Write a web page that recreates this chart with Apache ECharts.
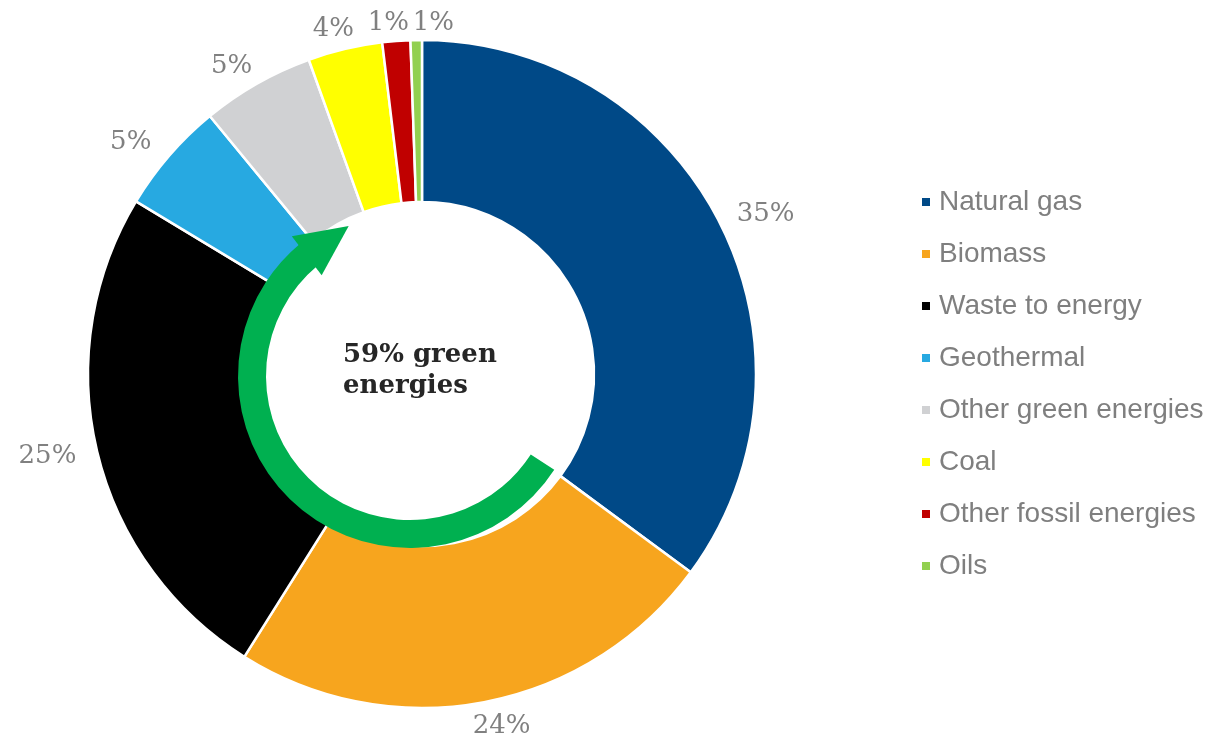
<!DOCTYPE html>
<html>
<head>
<meta charset="utf-8">
<script src="https://cdn.jsdelivr.net/npm/echarts@6/dist/echarts.min.js"></script>
<style>
  html, body { margin: 0; padding: 0; background: #fff; }
  #chart { width: 1220px; height: 744px; }
</style>
</head>
<body>
<div id="chart"></div>
<script>
// energy mix, share of total in %
const categories = ['Natural gas', 'Biomass', 'Waste to energy', 'Geothermal', 'Other green energies', 'Coal', 'Other fossil energies', 'Oils'];
const shares = [35.1, 23.8, 24.7, 5.4, 5.45, 3.6, 1.35, 0.55];
const greenCategories = ['Biomass', 'Waste to energy', 'Geothermal', 'Other green energies'];

const palette = ['#004987', '#F7A51E', '#000000', '#27A9E1', '#D0D1D3', '#FFFF00', '#C00000', '#92D050'];

const CX = 422, CY = 374;
const LABEL_RX = 385, LABEL_RY = 354;
// small manual nudges so the two tiny slices' labels don't sit on top of each other
const labelNudge = { 'Other fossil energies': [-4, 2], 'Oils': [18, 3], 'Biomass': [8, 4] };

const total = shares.reduce((a, b) => a + b, 0);
const midAngles = [];
let acc = 0;
shares.forEach(v => { midAngles.push((acc + v / 2) / total * 360); acc += v; });

const greenShare = categories.reduce((s, c, i) => greenCategories.includes(c) ? s + shares[i] : s, 0) / total * 100;

// green arrow around the hole
const AX = 410, AY = 376, AR0 = 144, AR = 172;
const arrowStart = 123;
const arrowTip = arrowStart + greenShare / 100 * 360;
const bodyEnd = arrowTip - 17;
const rad = d => d * Math.PI / 180;
function polar(r, deg) {
  return [AX + r * Math.sin(rad(deg)), AY - r * Math.cos(rad(deg))];
}

let myChart = echarts.init(document.getElementById('chart'));
myChart.setOption({
  animation: false,
  color: palette,
  legend: {
    orient: 'vertical',
    left: 915,
    top: 183,
    icon: 'rect',
    itemWidth: 10,
    itemHeight: 10,
    itemGap: 24,
    selectedMode: false,
    textStyle: {
      fontFamily: 'Liberation Sans',
      fontSize: 28,
      lineHeight: 28,
      color: '#7F7F7F',
      padding: [0, 0, 0, 3]
    },
    data: categories
  },
  series: [
    {
      type: 'pie',
      center: [CX, CY],
      radius: [172, 334],
      startAngle: 90,
      clockwise: true,
      avoidLabelOverlap: false,
      silent: true,
      itemStyle: { borderColor: '#ffffff', borderWidth: 2.5 },
      label: {
        show: true,
        position: 'outside',
        fontFamily: 'DejaVu Serif',
        fontSize: 26,
        color: '#808080',
        formatter: p => Math.round(p.value) + '%'
      },
      labelLine: { show: false },
      labelLayout: function (p) {
        const a = rad(midAngles[p.dataIndex]);
        const n = labelNudge[categories[p.dataIndex]] || [0, 0];
        return {
          x: CX + LABEL_RX * Math.sin(a) + n[0],
          y: CY - LABEL_RY * Math.cos(a) + n[1],
          align: 'center',
          verticalAlign: 'middle'
        };
      },
      data: categories.map((c, i) => ({ name: c, value: shares[i] }))
    }
  ],
  graphic: [
    {
      type: 'sector',
      z: 100,
      shape: {
        cx: AX, cy: AY, r0: AR0, r: AR,
        startAngle: rad(arrowStart - 90),
        endAngle: rad(bodyEnd + 0.5 - 90),
        clockwise: true
      },
      style: { fill: '#00B050' }
    },
    {
      type: 'polygon',
      z: 100,
      shape: { points: [polar(183, bodyEnd), polar(134, bodyEnd - 1), polar(162, arrowTip + 1)] },
      style: { fill: '#00B050' }
    },
    {
      type: 'text',
      z: 101,
      left: 343,
      top: 340,
      style: {
        text: Math.round(greenShare) + '% green\nenergies',
        font: 'bold 26px "DejaVu Serif"',
        lineHeight: 31,
        fill: '#262626'
      }
    }
  ]
});
</script>
</body>
</html>
